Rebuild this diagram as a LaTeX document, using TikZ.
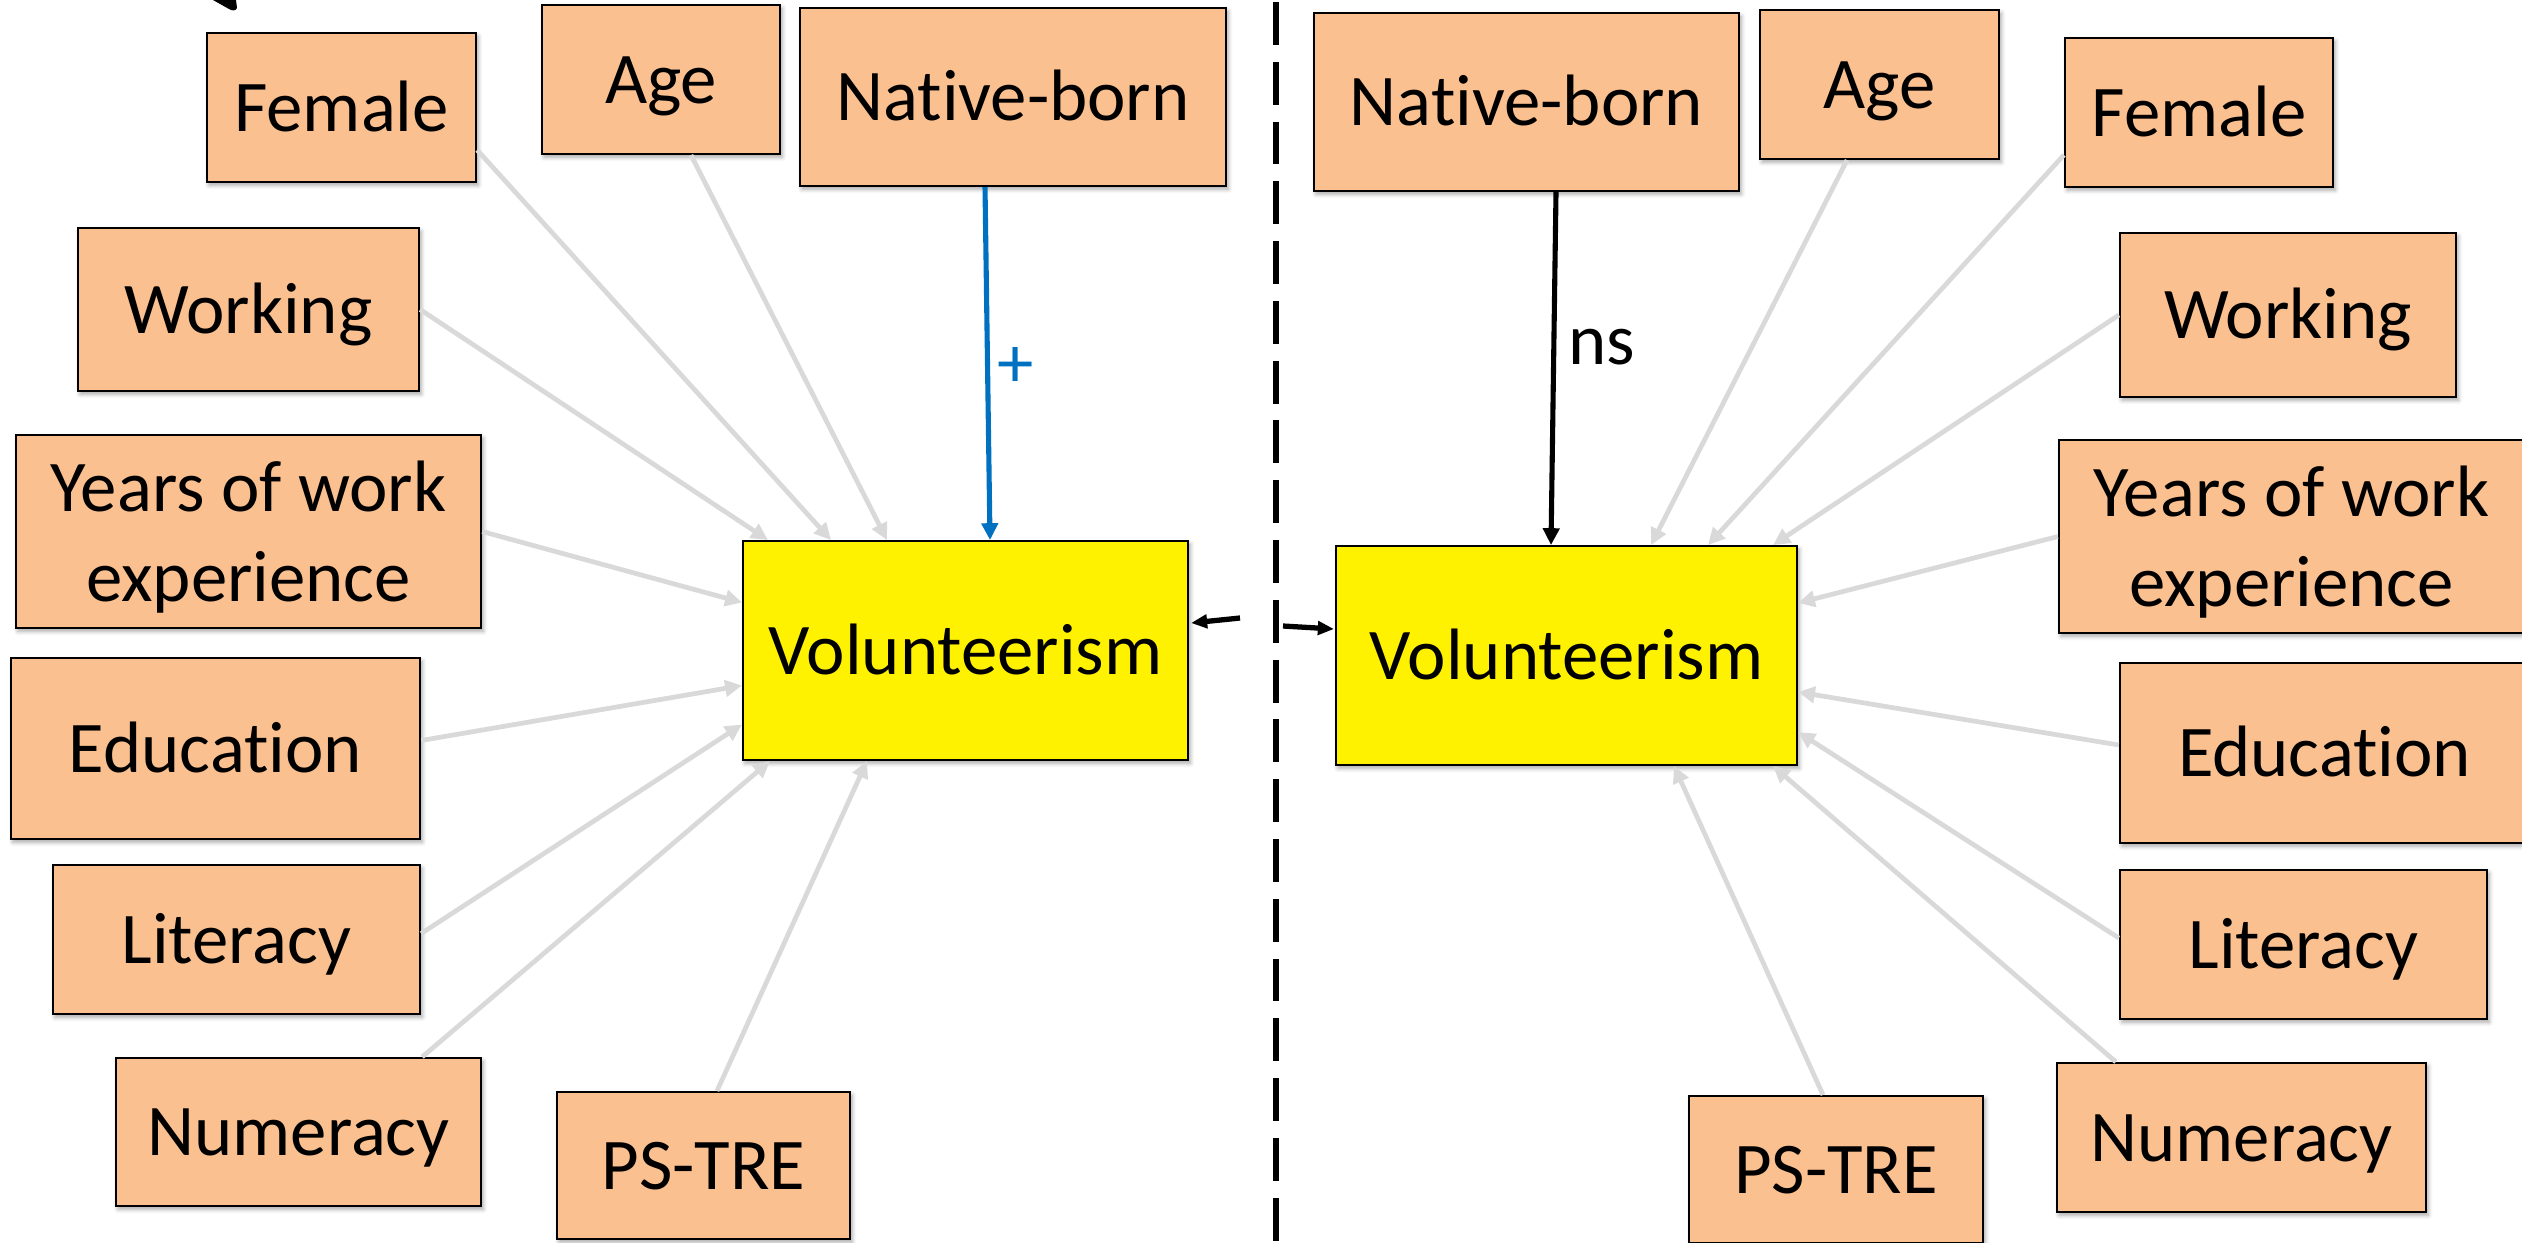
\documentclass[tikz,border=0pt]{standalone}
\usepackage{fontspec}
\setmainfont{Carlito}[Ligatures=NoCommon]
\usetikzlibrary{arrows.meta,calc,shadows.blur}
\definecolor{peach}{HTML}{FAC090}
\definecolor{linkgray}{HTML}{D9D9D9}
\definecolor{posblue}{HTML}{0070C0}
\newcommand{\boxfont}{\fontsize{20.7}{25.5}\selectfont}

\tikzset{
  factor/.style={draw=black, line width=0.6pt, fill=peach, inner sep=0pt,
    align=center, font=\boxfont, text height=13.4pt, text depth=0pt,
    blur shadow={shadow xshift=0.6pt, shadow yshift=-0.9pt,
      shadow blur radius=1.2pt, shadow opacity=35}},
  twoline/.style={factor, text height=, text depth=0pt},
  outcome/.style={factor, fill=yellow, line width=0.5pt},
  link/.style={draw=linkgray, line width=1.35pt,
    -{Triangle[length=4.8pt,width=4.6pt]}},
  keylink/.style={line width=1.45pt, -{Triangle[length=4.8pt,width=4.6pt]}},
  corr/.style={draw=black, line width=1.5pt,
    -{Triangle[length=4.6pt,width=3.8pt]}},
  divider/.style={draw=black, line width=1.7pt, dash pattern=on 12.2pt off 4.8pt},
  tag/.style={font=\boxfont, inner sep=0pt}
}

\begin{document}
\begin{tikzpicture}[x=0.01cm, y=-0.01cm]
  \useasboundingbox (0,0) rectangle (2522,1242);

  % tail of a curved stroke entering at the top edge
  \fill[black] (213,0) -- (236,0) -- (237,8)
    .. controls (236,11) and (232,11) .. (229,9) -- cycle;

  % ---------- left model ----------
  \node[factor, minimum width=2.69cm, minimum height=1.49cm] (lFemale) at (341.5,107.5) {Female};
  \node[factor, minimum width=2.38cm, minimum height=1.49cm] (lAge) at (661,79.5) {Age};
  \node[factor, minimum width=4.26cm, minimum height=1.78cm] (lNative) at (1013,97) {Native-born};
  \node[factor, minimum width=3.41cm, minimum height=1.63cm] (lWorking) at (248.5,309.5) {Working};
  \node[twoline, minimum width=4.65cm, minimum height=1.93cm] (lYears) at (248.5,531.5) {Years of work\\experience};
  \node[factor, minimum width=4.09cm, minimum height=1.81cm] (lEducation) at (215.5,748.5) {Education};
  \node[factor, minimum width=3.67cm, minimum height=1.49cm] (lLiteracy) at (236.5,939.5) {Literacy};
  \node[factor, minimum width=3.65cm, minimum height=1.48cm] (lNumeracy) at (298.5,1132) {Numeracy};
  \node[factor, minimum width=2.93cm, minimum height=1.47cm] (lPSTRE) at (703.5,1165.5) {PS-TRE};
  \node[outcome, minimum width=4.45cm, minimum height=2.19cm] (lVol) at (965.5,650.5) {Volunteerism};

  \draw[link] ($(lFemale.east)+(0,42.5)$) -- ($(lVol.north west)+(89,0)$);
  \draw[link] ($(lAge.south)+(30,0)$) -- ($(lVol.north west)+(145,0)$);
  \draw[link] (lWorking.east) -- ($(lVol.north west)+(26,0)$);
  \draw[link] (lYears.east) -- ($(lVol.west)+(0,-48)$);
  \draw[link] ($(lEducation.east)+(0,-8)$) -- ($(lVol.west)+(0,35)$);
  \draw[link] ($(lLiteracy.east)+(0,-6)$) -- ($(lVol.west)+(0,74)$);
  \draw[link] ($(lNumeracy.north east)+(-60,0)$) -- ($(lVol.south west)+(28,0)$);
  \draw[link] ($(lPSTRE.north)+(13.5,0)$) -- ($(lVol.south west)+(125,0)$);
  \draw[keylink, draw=posblue, fill=posblue] ($(lNative.south)+(-28,0)$) -- ($(lVol.north)+(24.5,0)$);
  \node[tag, text=posblue] (plus) at (1016,367) {+};

  % ---------- right model ----------
  \node[factor, minimum width=4.25cm, minimum height=1.78cm] (rNative) at (1526.5,102) {Native-born};
  \node[factor, minimum width=2.39cm, minimum height=1.49cm] (rAge) at (1879.5,84.5) {Age};
  \node[factor, minimum width=2.68cm, minimum height=1.49cm] (rFemale) at (2199,112.5) {Female};
  \node[factor, minimum width=3.36cm, minimum height=1.64cm] (rWorking) at (2288,315) {Working};
  \node[twoline, minimum width=4.65cm, minimum height=1.93cm] (rYears) at (2291.5,536.5) {Years of work\\experience};
  \node[factor, minimum width=4.09cm, minimum height=1.80cm] (rEducation) at (2324.5,753) {Education};
  \node[factor, minimum width=3.67cm, minimum height=1.49cm] (rLiteracy) at (2303.5,944.5) {Literacy};
  \node[factor, minimum width=3.69cm, minimum height=1.49cm] (rNumeracy) at (2241.5,1137.5) {Numeracy};
  \node[factor, minimum width=2.94cm, minimum height=1.47cm] (rPSTRE) at (1836,1169.5) {PS-TRE};
  \node[outcome, minimum width=4.61cm, minimum height=2.19cm] (rVol) at (1566.5,655.5) {Volunteerism};

  \draw[link] ($(rAge.south)+(-32.5,0)$) -- ($(rVol.north west)+(316,0)$);
  \draw[link] ($(rFemale.west)+(0,42.5)$) -- ($(rVol.north west)+(373,0)$);
  \draw[link] (rWorking.west) -- ($(rVol.north east)+(-25,0)$);
  \draw[link] (rYears.west) -- ($(rVol.east)+(0,-52.5)$);
  \draw[link] ($(rEducation.west)+(0,-8)$) -- ($(rVol.east)+(0,36.5)$);
  \draw[link] ($(rLiteracy.west)+(0,-6.5)$) -- ($(rVol.east)+(0,76.5)$);
  \draw[link] ($(rNumeracy.north west)+(60,0)$) -- ($(rVol.south east)+(-25,0)$);
  \draw[link] ($(rPSTRE.north)+(-13,0)$) -- ($(rVol.south west)+(339,0)$);
  \draw[keylink, draw=black, fill=black] ($(rNative.south)+(29.5,0)$) -- ($(rVol.north)+(-15.5,0)$);
  \node[tag, anchor=base] (ns) at (1602,364) {ns};

  % ---------- divider and cross-model arrows ----------
  \draw[divider] (1276,2) -- (1276,1250);
  \coordinate (tailL) at (1240,618);
  \coordinate (tailR) at (1283,626);
  \draw[corr, fill=black] (tailL) -- ($(lVol.east)+(2,-27.5)$);
  \draw[corr, fill=black] (tailR) -- ($(rVol.west)+(-1,-26.5)$);
\end{tikzpicture}
\end{document}
